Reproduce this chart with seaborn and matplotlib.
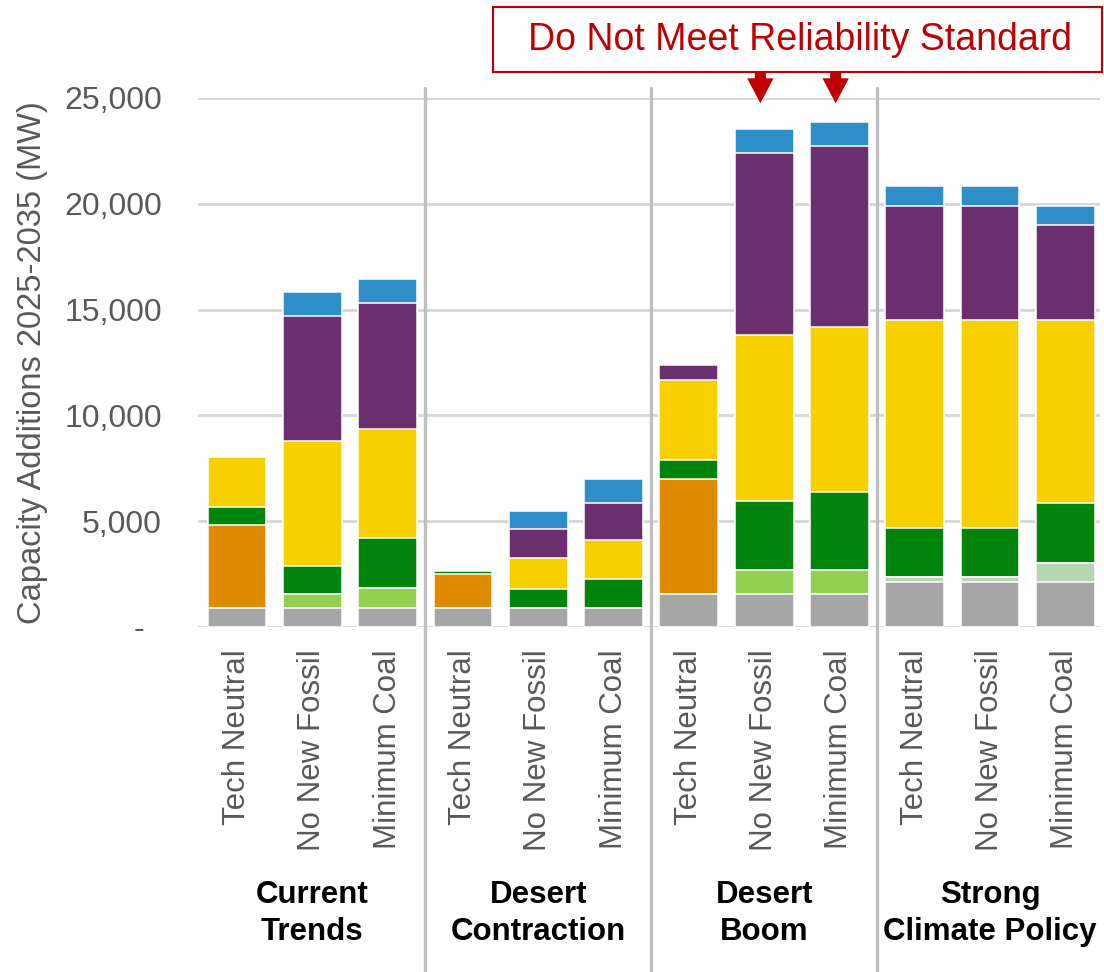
import matplotlib
matplotlib.use("Agg")
import matplotlib.pyplot as plt
from matplotlib.patches import Rectangle
import seaborn as sns
import pandas as pd
import numpy as np

# scenarios (groups) and portfolios (bars in each group)
scenarios = ["Current\nTrends", "Desert\nContraction", "Desert\nBoom", "Strong\nClimate Policy"]
portfolios = ["Tech Neutral", "No New Fossil", "Minimum Coal"]

# capacity additions 2025-2035 (MW), one value per bar, bottom layer first
gray = [900, 900, 900, 900, 900, 900, 1560, 1560, 1560, 2140, 2140, 2140]
pale_green = [0, 0, 0, 0, 0, 0, 0, 0, 0, 220, 220, 880]
light_green = [0, 660, 940, 0, 0, 0, 0, 1140, 1140, 0, 0, 0]
orange = [3920, 0, 0, 1600, 0, 0, 5440, 0, 0, 0, 0, 0]
green = [850, 1320, 2370, 130, 900, 1370, 900, 3260, 3680, 2340, 2340, 2840]
yellow = [2370, 5920, 5150, 0, 1460, 1840, 3780, 7840, 7800, 9820, 9820, 8660]
purple = [0, 5900, 5960, 0, 1370, 1750, 710, 8600, 8560, 5380, 5380, 4480]
blue = [0, 1140, 1130, 0, 850, 1140, 0, 1150, 1140, 950, 950, 900]

flagged_bars = [7, 8]  # do not meet reliability standard

layers = [
    (gray, "#a6a6a6"),
    (pale_green, "#b6d5b1"),
    (light_green, "#92d050"),
    (orange, "#e08a00"),
    (green, "#00840c"),
    (yellow, "#f8d000"),
    (purple, "#6b2f6f"),
    (blue, "#2e8fc8"),
]

bar_ids = [f"b{i}" for i in range(len(gray))]
cum = np.cumsum(np.array([l[0] for l in layers], dtype=float), axis=0)
df = pd.DataFrame(cum.T, columns=[f"c{k}" for k in range(len(layers))])
df["bar"] = bar_ids

sns.set_theme(style="white")
plt.rcParams["font.family"] = ["Liberation Sans", "DejaVu Sans"]

fig = plt.figure(figsize=(11.04, 9.72), dpi=100)
ax = fig.add_axes([198 / 1104, 345 / 972, 902 / 1104, 529 / 972])

# stacked bars: draw cumulative totals from the top layer down
for k in range(len(layers) - 1, -1, -1):
    sns.barplot(data=df, x="bar", y=f"c{k}", order=bar_ids, color=layers[k][1],
                saturation=1, width=0.78, edgecolor="white", linewidth=1.1,
                errorbar=None, ax=ax, zorder=3)

ax.set_xlim(-0.518, 11.46)
ax.set_ylim(0, 25000)
ax.set_yticks(range(0, 25001, 5000))
ax.set_yticklabels(["-  "] + [f"{v:,}" for v in range(5000, 25001, 5000)])
ax.yaxis.grid(True, color="#d6d6d6", linewidth=2, zorder=0)
ax.set_axisbelow(True)
for s in ax.spines.values():
    s.set_visible(False)

ax.set_xticks(range(len(bar_ids)))
ax.set_xticklabels(portfolios * len(scenarios), rotation=90)
ax.tick_params(axis="x", length=0, pad=16, labelsize=22.5, labelcolor="#595959")
ax.tick_params(axis="y", length=0, pad=26, labelsize=23, labelcolor="#595959")
ax.set_xlabel("")
ax.set_ylabel("Capacity Additions 2025-2035 (MW)", fontsize=23.5, color="#595959")
ax.yaxis.set_label_coords(-0.166, 0.5)

# group separators and group names
n = len(portfolios)
for g in range(1, len(scenarios)):
    ax.axvline(g * n - 0.5, ymin=-0.652, ymax=1.019, color="#bfbfbf",
               linewidth=2.4, clip_on=False, zorder=1)
for g, name in enumerate(scenarios):
    ax.text(g * n + 1, -0.478, name, transform=ax.get_xaxis_transform(),
            ha="center", va="top", fontsize=22.5, fontweight="bold",
            color="black", linespacing=1.33)

# callout box with arrows
fig.patches.append(Rectangle((493 / 1104, 1 - 72 / 972), 609 / 1104, 65 / 972,
                             transform=fig.transFigure, facecolor="white",
                             edgecolor="#c00000", linewidth=1.5))
fig.text(800 / 1104, 1 - 40 / 972, "Do Not Meet Reliability Standard",
         ha="center", va="center", fontsize=27, color="#c00000")
for b in flagged_bars:
    ax.annotate("", xy=(b - 0.05, 0.99), xycoords=("data", "axes fraction"),
                xytext=(b - 0.05, 1.049), textcoords=("data", "axes fraction"),
                arrowprops=dict(arrowstyle="simple,head_length=0.9,head_width=0.95,tail_width=0.4",
                                facecolor="#c00000", edgecolor="none",
                                shrinkA=0, shrinkB=0, mutation_scale=20))

fig.savefig("out.png", dpi=100)
